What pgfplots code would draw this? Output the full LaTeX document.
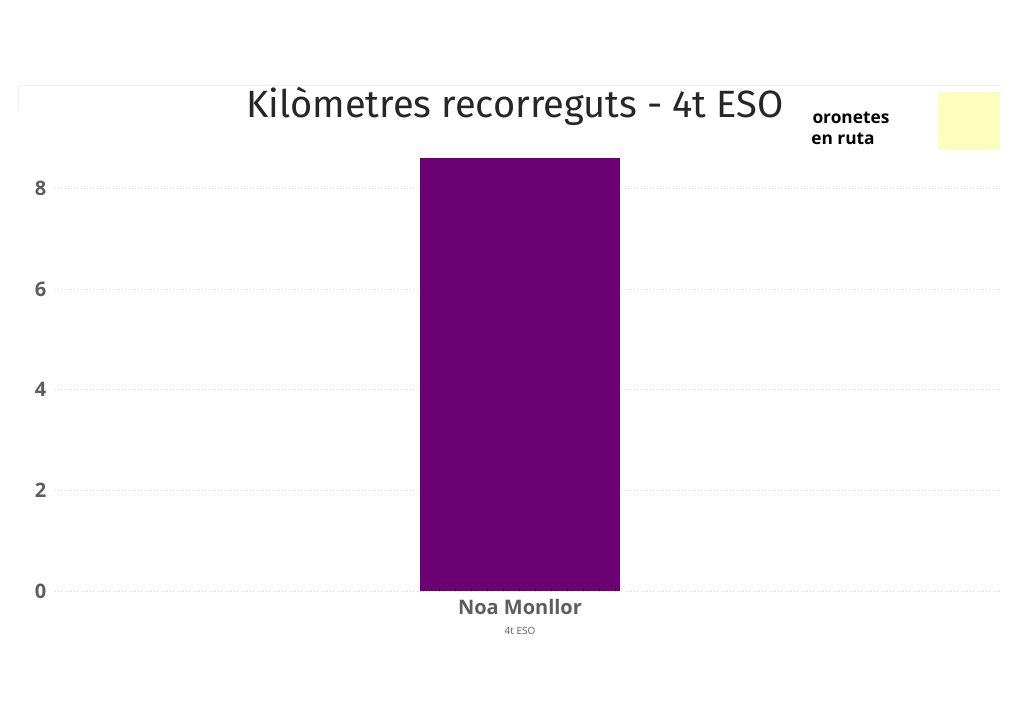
\documentclass[border=0pt]{standalone}
\usepackage{pgfplots}
\pgfplotsset{compat=1.18}
\usepackage{fontspec}
\setmainfont{Open Sans}
\newfontfamily\titlefont{Fira Sans}
\definecolor{barcol}{RGB}{107,0,115}
\definecolor{tickcol}{RGB}{96,94,92}
\definecolor{gridcol}{RGB}{215,215,215}
\begin{document}
\begin{tikzpicture}[x=0.75pt,y=0.75pt]
\useasboundingbox (0,0) rectangle (1024,724);
\fill[white] (0,0) rectangle (1024,724);
\draw[gray!12] (18,614) -- (18,639) -- (1000,639);
\begin{axis}[
  at={(41.25pt,99.75pt)}, anchor=south west,
  scale only axis, width=708.75pt, height=339.75pt,
  xmin=55, xmax=1000, ymin=0, ymax=9,
  axis line style={draw=none},
  tick style={draw=none},
  ytick={0,2,4,6,8},
  ymajorgrids, major grid style={gridcol, dotted, line width=0.6pt},
  xtick={520},
  xticklabels={{\bfseries\fontsize{15}{17}\selectfont Noa Monllor\\[3pt]\fontsize{7.5}{9}\selectfont 4t ESO}},
  xticklabel style={align=center, text=tickcol, yshift=-3pt},
  yticklabel style={text=tickcol, font=\bfseries\fontsize{15}{17}\selectfont, xshift=-3pt},
  /pgf/number format/assume math mode=true,
  clip=false,
]
\addplot[ybar, fill=barcol, draw=none, bar width=150pt] coordinates {(520,8.6)};
\end{axis}
\node[text=black!85, font=\titlefont\fontsize{28.5}{32}\selectfont] at (515,618) {Kilòmetres recorreguts - 4t ESO};
\fill[yellow!25] (938,574) rectangle (1000,632);
\node[font=\bfseries\fontsize{13}{14}\selectfont, text=black] at (851,606) {oronetes};
\node[font=\bfseries\fontsize{13}{14}\selectfont, text=black] at (843,585) {en ruta};
\end{tikzpicture}
\end{document}
